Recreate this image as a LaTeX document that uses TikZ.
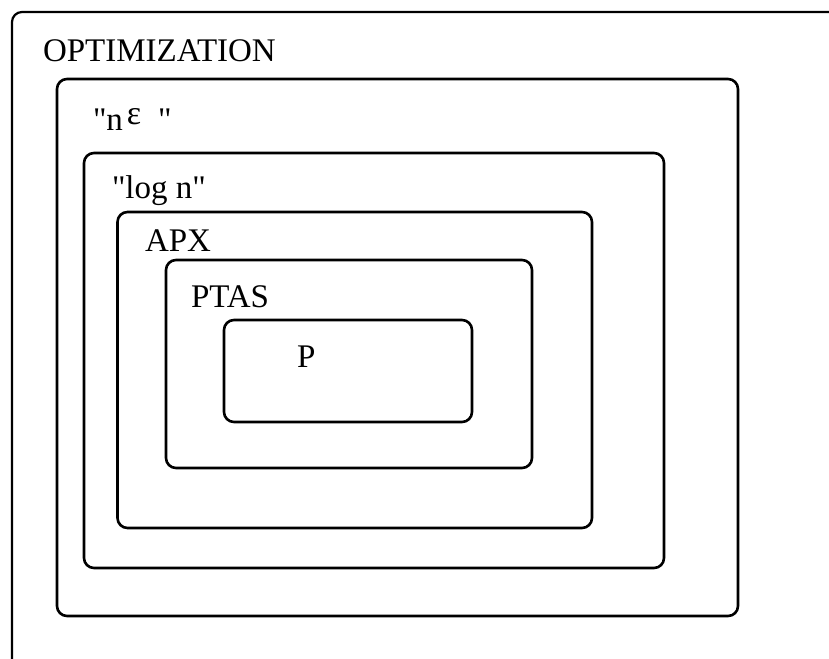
\documentclass[tikz,border=0pt]{standalone}
\usepackage{fontspec}
\setmainfont{Liberation Serif}[Ligatures=TeXOff]
\begin{document}
\begin{tikzpicture}[x=1pt,y=-1pt,
  setbox/.style={draw, line width=2.6pt, rounded corners=10pt, inner sep=0pt, outer sep=0pt},
  outerbox/.style={setbox, line width=2.2pt},
  setlabel/.style={anchor=base west, inner sep=0pt, outer sep=0pt, font=\fontsize{33}{40}\selectfont}]
  \useasboundingbox (0,0) rectangle (829,658);
  \clip (0,0) rectangle (829,658);
  % nested classes, outermost first
  \node[outerbox, minimum width=838pt, minimum height=668pt] (optim) at (431,346) {};
  \node[setbox, minimum width=681pt, minimum height=537pt] (neps) at (397.5,347.5) {};
  \node[setbox, minimum width=580pt, minimum height=415pt] (logn) at (374,360.5) {};
  \node[setbox, minimum width=474.5pt, minimum height=316pt] (apx) at (354.75,370) {};
  \node[setbox, minimum width=366pt, minimum height=208pt] (ptas) at (349,364) {};
  \node[setbox, minimum width=248pt, minimum height=102pt] (p) at (348,371) {};
  % class names
  \node[setlabel] (optimlabel) at (43,62) {OPTIMIZATION};
  \node[setlabel] (nepslabel) at (93,131) {"n\hspace{4pt}\raisebox{6pt}{\fontsize{34}{34}\selectfont ε}\hspace{17pt}"};
  \node[setlabel] (lognlabel) at (112,198) {"log n"};
  \node[setlabel] (apxlabel) at (145,251) {APX};
  \node[setlabel] (ptaslabel) at (191,307) {PTAS};
  \node[setlabel] (plabel) at (297,367) {P};
\end{tikzpicture}
\end{document}
